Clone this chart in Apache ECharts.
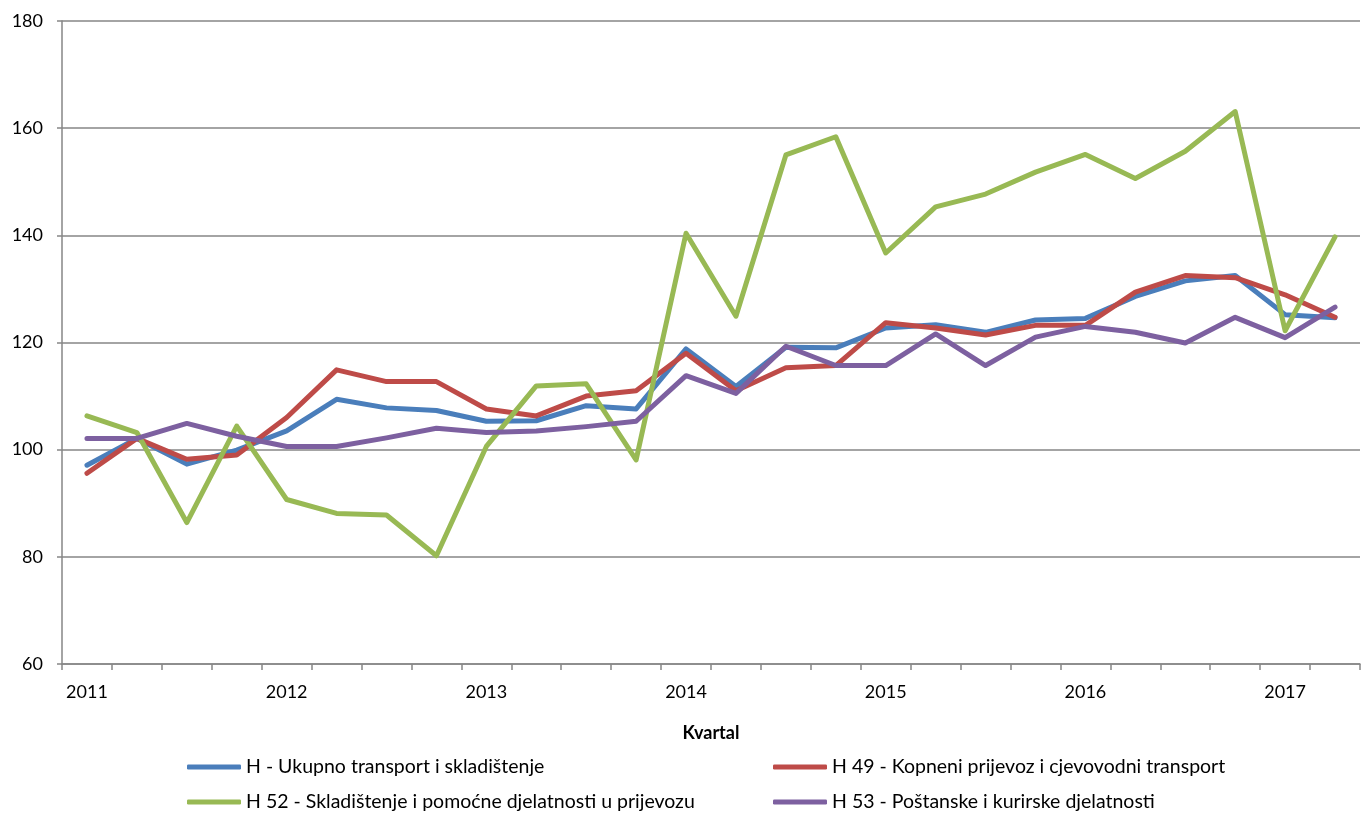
<!DOCTYPE html>
<html>
<head>
<meta charset="utf-8">
<script src="https://cdn.jsdelivr.net/npm/echarts@6/dist/echarts.min.js"></script>
<style>
  html, body { margin: 0; padding: 0; background: #fff; }
  #chart { width: 1362px; height: 814px; }
</style>
</head>
<body>
<div id="chart"></div>
<script>
// kvartali 2011 Q1 - 2017 Q2
const categories = [
  "2011 Q1", "2011 Q2", "2011 Q3", "2011 Q4",
  "2012 Q1", "2012 Q2", "2012 Q3", "2012 Q4",
  "2013 Q1", "2013 Q2", "2013 Q3", "2013 Q4",
  "2014 Q1", "2014 Q2", "2014 Q3", "2014 Q4",
  "2015 Q1", "2015 Q2", "2015 Q3", "2015 Q4",
  "2016 Q1", "2016 Q2", "2016 Q3", "2016 Q4",
  "2017 Q1", "2017 Q2"
];

const seriesNames = [
  "H - Ukupno transport i skladištenje",
  "H 49 - Kopneni prijevoz i cjevovodni transport",
  "H 52 - Skladištenje i pomoćne djelatnosti u prijevozu",
  "H 53 - Poštanske i kurirske djelatnosti"
];

const ukupno = [
  97.1, 102.1, 97.3, 99.9, 103.5, 109.4, 107.8, 107.3, 105.3, 105.4, 108.2, 107.6,
  118.8, 111.8, 119.1, 119.0, 122.7, 123.3, 121.9, 124.2, 124.5, 128.6, 131.5, 132.5,
  125.2, 124.6
];
const kopneni = [
  95.6, 102.1, 98.2, 99.0, 106.0, 114.9, 112.7, 112.7, 107.6, 106.3, 110.0, 111.0,
  118.0, 111.0, 115.3, 115.7, 123.7, 122.7, 121.4, 123.2, 123.2, 129.4, 132.5, 132.1,
  128.9, 124.7
];
const skladistenje = [
  106.3, 103.2, 86.4, 104.4, 90.7, 88.1, 87.8, 80.2, 100.6, 111.9, 112.3, 98.1,
  140.4, 124.9, 155.0, 158.4, 136.7, 145.3, 147.7, 151.8, 155.1, 150.6, 155.7, 163.1,
  122.2, 139.7
];
const postanske = [
  102.1, 102.1, 104.9, 102.5, 100.6, 100.6, 102.2, 104.0, 103.2, 103.5, 104.3, 105.3,
  113.8, 110.5, 119.3, 115.7, 115.7, 121.6, 115.7, 121.0, 123.0, 121.9, 119.9, 124.7,
  120.9, 126.6
];

const colors = ["#4a7ebb", "#be4b48", "#98b954", "#7d60a0"];
const font = "Lato, 'Open Sans', sans-serif";

const chart = echarts.init(document.getElementById("chart"));

const mkLine = (name, data, color) => ({
  name: name,
  type: "line",
  data: data,
  color: color,
  symbol: "none",
  lineStyle: { width: 5, color: color, cap: "round", join: "round" },
  animation: false
});

// jedna legenda po stavci, raspored 2x2 kao u Excelu
const mkLegend = (name, left, top) => ({
  left: left,
  top: top,
  padding: 0,
  itemWidth: 54,
  itemHeight: 5,
  icon: "roundRect",
  textStyle: { fontFamily: font, fontSize: 19.5, color: "#000" },
  data: [name]
});

const option = {
  backgroundColor: "#fff",
  grid: { left: 62, right: 2, top: 21, bottom: 150 },
  xAxis: {
    type: "category",
    data: categories,
    boundaryGap: true,
    name: "Kvartal",
    nameLocation: "middle",
    nameGap: 60,
    nameTextStyle: { fontFamily: font, fontSize: 18, fontWeight: "bold", color: "#000" },
    axisLine: { lineStyle: { color: "#868686", width: 1.5 } },
    axisTick: { show: true, interval: 0, length: 6, lineStyle: { color: "#868686", width: 1.5 } },
    axisLabel: {
      interval: 3,
      margin: 19,
      fontFamily: font,
      fontSize: 18,
      color: "#000",
      formatter: (v) => v.slice(0, 4)
    },
    splitLine: { show: false }
  },
  yAxis: {
    type: "value",
    min: 60,
    max: 180,
    interval: 20,
    axisLine: { show: true, lineStyle: { color: "#868686", width: 1.5 } },
    axisTick: { show: true, length: 5, lineStyle: { color: "#868686", width: 1.5 } },
    axisLabel: { fontFamily: font, fontSize: 18, color: "#000", margin: 19 },
    splitLine: { show: true, lineStyle: { color: "#868686", width: 1.5 } }
  },
  legend: [
    mkLegend(seriesNames[0], 187, 757),
    mkLegend(seriesNames[1], 773, 757),
    mkLegend(seriesNames[2], 187, 792),
    mkLegend(seriesNames[3], 773, 792)
  ],
  series: [
    mkLine(seriesNames[0], ukupno, colors[0]),
    mkLine(seriesNames[1], kopneni, colors[1]),
    mkLine(seriesNames[2], skladistenje, colors[2]),
    mkLine(seriesNames[3], postanske, colors[3])
  ]
};

option && chart.setOption(option);
</script>
</body>
</html>
